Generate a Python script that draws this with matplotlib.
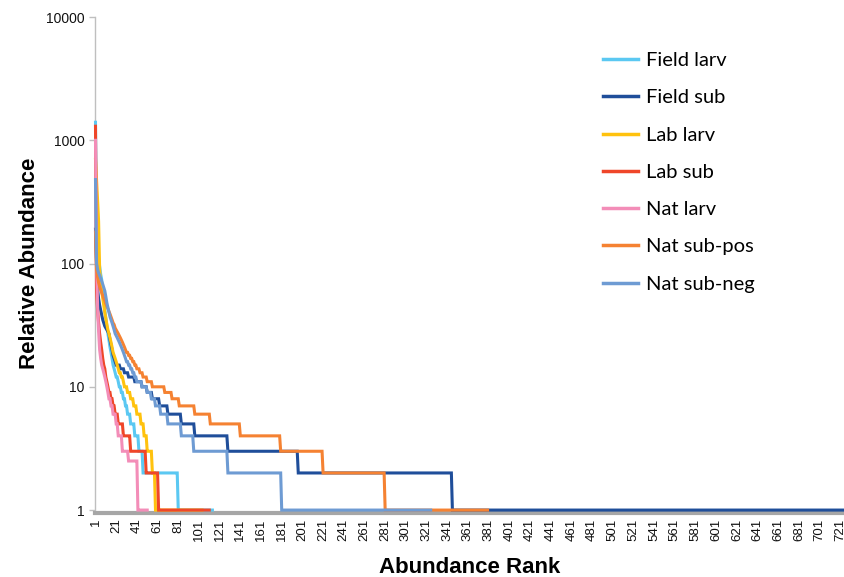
import numpy as np
import matplotlib
matplotlib.use("Agg")
import matplotlib.pyplot as plt
from matplotlib.ticker import NullLocator

plt.rcParams["font.family"] = "Liberation Sans"

# per-rank values: first ranks one by one, then (level, run length)
field_larv_head = [1400, 200, 150, 110, 95, 82, 74, 60, 50, 42, 36, 31, 27, 24, 21, 19, 17, 15, 14, 13, 12, 12, 11]
field_larv_levels = [10, 9, 8, 7, 6, 5, 4, 3, 2, 1]
field_larv_counts = [2, 2, 2, 2, 3, 4, 4, 4, 34, 34]

field_sub_head = [190, 100, 62, 52, 46, 42, 38, 35, 33, 31, 30, 29, 28, 27, 24, 22, 20, 18, 17, 16]
field_sub_levels = [15, 14, 13, 12, 11, 10, 9, 8, 7, 6, 5, 4, 3, 2, 1]
field_sub_counts = [4, 4, 4, 6, 7, 5, 5, 7, 8, 13, 13, 32, 68, 149, 380]

lab_larv_head = [700, 480, 330, 220, 90, 70, 60, 52, 46, 40, 36, 32, 29, 27, 25, 23, 21, 19, 18, 17,
                 16, 15, 14, 13, 13, 12, 12, 11]
lab_larv_levels = [10, 9, 8, 7, 6, 5, 4, 3, 2, 1]
lab_larv_counts = [3, 3, 3, 3, 4, 3, 3, 5, 3, 46]

lab_sub_head = [1300, 60, 42, 33, 27, 23, 20, 17, 15, 14, 12, 11, 10, 9, 9, 8, 8]
lab_sub_levels = [7, 6, 5, 4, 3, 2, 1]
lab_sub_counts = [2, 3, 5, 7, 15, 12, 50]

nat_larv_head = [1000, 110, 45, 28, 20, 17, 15, 14, 13, 12, 11, 10, 9, 8, 8, 7, 7, 6, 6, 6]
nat_larv_levels = [5, 4, 3, 2.5, 1]
nat_larv_counts = [2, 4, 6, 9, 10]

nat_pos_head = [180, 90, 78, 70, 65, 61, 58, 55, 52, 50, 47, 45, 43, 41, 39, 37, 35, 33, 32, 30,
                29, 28, 27, 26, 25, 24, 23, 22, 21, 20]
nat_pos_levels = [19, 18, 17, 16, 15, 14, 13, 12, 11, 10, 9, 8, 7, 6, 5, 4, 3, 2, 1]
nat_pos_counts = [2, 2, 2, 2, 2, 3, 3, 4, 5, 12, 7, 7, 15, 15, 29, 39, 41, 60, 100]

nat_neg_head = [480, 100, 90, 84, 80, 76, 72, 68, 64, 60, 54, 48, 44, 40, 37, 35, 33, 31, 29, 27,
                26, 25, 24, 23, 22, 21, 20, 19, 18, 17, 16, 16, 15, 15, 14, 14, 13, 13, 12, 12]
nat_neg_levels = [11, 10, 9, 8, 7, 6, 5, 4, 3, 2, 1]
nat_neg_counts = [5, 5, 4, 4, 5, 7, 13, 12, 33, 52, 145]

labels = ["Field larv", "Field sub", "Lab larv", "Lab sub", "Nat larv", "Nat sub-pos", "Nat sub-neg"]
colors = ["#5BC8F2", "#1F4E9A", "#FFC20E", "#EF4629", "#F38DB8", "#F58232", "#6E9BD3"]

series = [
    (field_larv_head, field_larv_levels, field_larv_counts),
    (field_sub_head, field_sub_levels, field_sub_counts),
    (lab_larv_head, lab_larv_levels, lab_larv_counts),
    (lab_sub_head, lab_sub_levels, lab_sub_counts),
    (nat_larv_head, nat_larv_levels, nat_larv_counts),
    (nat_pos_head, nat_pos_levels, nat_pos_counts),
    (nat_neg_head, nat_neg_levels, nat_neg_counts),
]

fig = plt.figure(figsize=(8.45, 5.77), dpi=100)
ax = fig.add_axes([0.1124, 0.116, 0.8876, 0.8545])

for (head, levels, counts), lab, col in zip(series, labels, colors):
    vals = np.concatenate([head, np.repeat(levels, counts)])
    ranks = np.arange(1, len(vals) + 1)
    ax.plot(ranks, vals, color=col, lw=2.2, label=lab, clip_on=False, zorder=3,
            solid_joinstyle="miter")

ax.set_yscale("log")
ax.set_ylim(1, 10000)
ax.set_xlim(0.5, 725.5)
ax.set_yticks([1, 10, 100, 1000, 10000])
ax.set_yticklabels(["1", "10", "100", "1000", "10000"])
ax.yaxis.set_minor_locator(NullLocator())
xt = np.arange(1, 722, 20)
ax.set_xticks(xt)
ax.set_xticklabels([str(v) for v in xt])

for s in ["top", "right"]:
    ax.spines[s].set_visible(False)
ax.spines["left"].set_color("#BFBFBF")
ax.spines["left"].set_linewidth(1.0)
ax.spines["bottom"].set_color("#A6A6A6")
ax.spines["bottom"].set_linewidth(3.0)
ax.spines["bottom"].set_position(("outward", 2))

ax.tick_params(axis="y", length=4.5, width=1, color="#BFBFBF", labelsize=10, pad=3,
               labelcolor="#111111")
ax.tick_params(axis="x", length=0, labelsize=9.5, pad=4, labelcolor="#111111", labelrotation=90)

ax.set_ylabel("Relative Abundance", fontsize=16, fontweight="bold", labelpad=4)
ax.set_xlabel("Abundance Rank", fontsize=16, fontweight="bold", labelpad=12)

leg = fig.legend(loc="upper left", bbox_to_anchor=(593 / 845, 1 - 42 / 577), frameon=False,
                 prop={"family": "Lato", "size": 14.5}, handlelength=1.75, handletextpad=0.4,
                 labelspacing=1.0, borderpad=0)
for h in leg.get_lines():
    h.set_linewidth(2.5)

fig.savefig("out.png", dpi=100)
